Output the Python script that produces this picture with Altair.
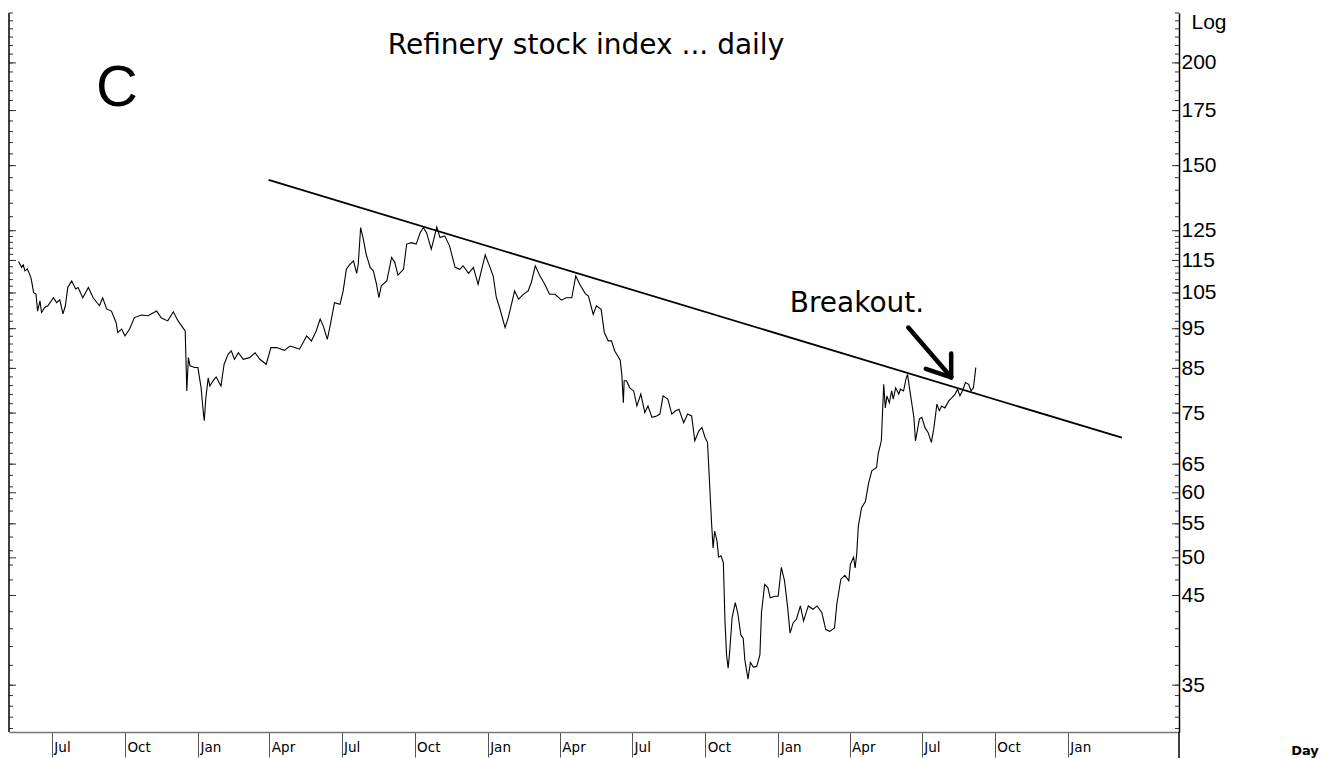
import altair as alt
import pandas as pd

# ---- price series: calendar days counted from 1 Jul 2006, and index value ----
days_2006 = [-42, -38, -36, -34, -31, -28, -26, -23, -20, -18, -15, -13, -9, -5, 2, 6, 10, 14, 17, 20,
             25, 30, 33, 39, 46, 52, 60, 64, 69, 75, 81, 83, 88, 92, 98, 104, 113, 121, 132, 138,
             146, 153, 159, 165, 168, 170, 172, 174, 180]
vals_2006 = [114.7, 112.8, 113.6, 111.7, 112.3, 110.7, 109.2, 105.1, 104.7, 99.8, 102.7, 99.4, 100.8, 101.3,
             103.6, 102.2, 103.0, 99.0, 101.3, 106.6, 108.6, 106.2, 106.6, 103.6, 106.6, 103.6, 101.3,
             103.6, 100.4, 99.8, 96.6, 94.0, 94.9, 93.1, 94.9, 98.0, 98.7, 98.5, 99.8, 97.9, 97.1, 99.6,
             97.1, 95.3, 94.4, 79.8, 87.6, 85.6, 85.2]

days_2007 = [184, 188, 191, 192, 194, 197, 199, 203, 207, 213, 217, 222, 226, 230, 235, 241, 249, 256, 262,
             270, 276, 283, 293, 300, 306, 312, 321, 327, 333, 338, 342, 347, 351, 356, 363, 367, 371, 375,
             380, 384, 386, 389, 392, 396, 401, 405, 409, 412, 415, 422, 428, 432, 436, 443, 447, 453, 459,
             464, 468, 472, 478, 485, 489, 495, 501, 508, 514, 518, 525, 531, 537, 541]
vals_2007 = [85.2, 80.5, 74.8, 73.4, 78.3, 82.8, 80.9, 82.1, 83.0, 80.9, 86.0, 88.4, 89.3, 87.2, 88.8, 87.2,
             87.6, 88.8, 87.2, 86.0, 90.1, 90.1, 89.4, 90.5, 90.1, 89.7, 93.1, 91.8, 94.4, 97.6, 95.7, 92.2,
             96.2, 102.2, 101.7, 105.6, 112.2, 113.6, 114.9, 110.9, 113.8, 126.1, 122.6, 117.0, 112.8, 111.7,
             107.6, 103.6, 107.1, 108.6, 116.0, 114.4, 110.4, 112.2, 120.4, 120.9, 120.4, 124.3, 126.1, 124.3,
             118.7, 126.3, 122.6, 123.2, 119.8, 112.8, 112.2, 113.3, 110.9, 112.8, 107.6, 111.7]

days_2008 = [546, 552, 556, 560, 564, 571, 575, 579, 583, 588, 594, 600, 604, 609, 615, 621, 627, 634, 642,
             648, 655, 660, 665, 672, 676, 682, 686, 692, 696, 701, 705, 709, 716, 718, 720, 721, 724, 728,
             733, 737, 742, 747, 751, 756, 762, 766, 770, 776, 781, 786, 790, 796, 801, 806, 810, 815, 819,
             823, 826, 828, 831, 833, 835, 838, 840, 843, 846, 848, 850, 852, 854, 857, 861, 864, 868, 871,
             873, 877, 880, 884, 888, 892, 894, 898, 902, 905]
vals_2008 = [116.8, 112.8, 110.1, 103.6, 100.8, 95.3, 98.0, 101.7, 105.6, 103.2, 104.6, 105.6, 108.1, 113.3,
             110.1, 107.6, 104.6, 104.6, 102.9, 103.6, 103.6, 110.1, 107.6, 104.8, 104.1, 98.9, 101.3, 100.3,
             94.0, 91.8, 91.8, 89.3, 87.0, 83.6, 77.2, 82.1, 82.1, 80.5, 79.8, 76.5, 79.1, 75.1, 76.5, 74.1,
             74.4, 74.8, 78.7, 78.0, 74.8, 75.5, 75.8, 73.0, 74.8, 74.4, 69.4, 71.3, 72.0, 70.0, 69.1, 63.3,
             55.4, 51.4, 53.9, 52.4, 50.1, 50.3, 49.3, 41.9, 38.1, 36.7, 38.5, 42.3, 44.1, 42.9, 40.3, 39.9,
             37.6, 35.6, 37.3, 36.8, 36.9, 38.1, 42.9, 46.4, 46.0, 44.7]

days_2009 = [911, 915, 919, 923, 927, 930, 934, 938, 943, 947, 953, 959, 964, 970, 975, 980, 986, 989, 994,
             999, 1004, 1006, 1010, 1012, 1014, 1016, 1020, 1025, 1029, 1033, 1039, 1041, 1045, 1048, 1050,
             1052, 1055, 1058, 1060, 1063, 1067, 1069, 1073, 1076, 1078, 1081, 1086, 1088, 1093, 1096, 1100,
             1104, 1108, 1111, 1115, 1118, 1121, 1125, 1130, 1134, 1138, 1141, 1144, 1147, 1151, 1155, 1158,
             1161, 1164]
vals_2009 = [44.9, 44.9, 48.7, 46.9, 43.5, 40.5, 41.7, 42.1, 43.7, 41.9, 43.7, 43.3, 43.7, 42.9, 40.9, 40.7,
             41.1, 44.0, 47.1, 47.6, 46.9, 49.1, 50.1, 48.6, 50.6, 54.6, 57.5, 58.6, 61.7, 63.8, 64.4, 66.9,
             69.4, 81.3, 76.1, 78.7, 77.2, 79.8, 78.0, 80.5, 79.1, 80.2, 79.8, 82.5, 83.6, 79.8, 74.1, 69.4,
             73.8, 74.1, 72.0, 71.0, 69.1, 71.7, 76.9, 75.5, 76.5, 76.1, 77.6, 78.3, 79.1, 80.2, 78.7, 79.8,
             81.7, 81.3, 79.8, 80.5, 85.2]

# trend line (two anchor points) and breakout arrow, in days / index value
trend_days = [273, 1348]
trend_vals = [144.1, 70.0]
arrow_from_days = [1079, 1133, 1133]
arrow_from_vals = [95.3, 82.9, 82.9]
arrow_to_days = [1133, 1101, 1133]
arrow_to_vals = [82.9, 84.9, 88.6]

# axis tick values
month_ticks = [(2006, 7), (2006, 10), (2007, 1), (2007, 4), (2007, 7), (2007, 10), (2008, 1), (2008, 4),
               (2008, 7), (2008, 10), (2009, 1), (2009, 4), (2009, 7), (2009, 10), (2010, 1)]
major_ticks = [35, 45, 50, 55, 60, 65, 75, 85, 95, 105, 115, 125, 150, 175, 200]
minor_ticks = [31, 32, 33, 34] + list(range(35, 126, 2)) + list(range(130, 231, 5))

origin = pd.Timestamp("2006-07-01")


def to_date(d):
    return (origin + pd.to_timedelta(d, unit="D")).strftime("%Y-%m-%d")


days = days_2006 + days_2007 + days_2008 + days_2009
vals = vals_2006 + vals_2007 + vals_2008 + vals_2009
price_df = pd.DataFrame({"date": [to_date(d) for d in days], "price": vals})
trend_df = pd.DataFrame({"date": [to_date(d) for d in trend_days], "price": trend_vals})
arrow_df = pd.DataFrame({
    "d1": [to_date(d) for d in arrow_from_days], "v1": arrow_from_vals,
    "d2": [to_date(d) for d in arrow_to_days], "v2": arrow_to_vals,
})
major_df = pd.DataFrame({"v": major_ticks})
minor_df = pd.DataFrame({"v": minor_ticks})

W, H = 1170, 719

xscale = alt.Scale(type="utc",
                   domain=[alt.DateTime(year=2006, month=5, date=8, utc=True),
                           alt.DateTime(year=2010, month=5, date=21, utc=True)])
yscale = alt.Scale(type="log", domain=[30.7, 230], nice=False)

x_axis = alt.Axis(
    values=[alt.DateTime(year=y, month=m, date=1, utc=True) for y, m in month_ticks],
    labelExpr="utcFormat(datum.value, '%b')",
    title=None, grid=False,
    domainColor="#777777", domainWidth=1.5,
    tickColor="#555555", tickSize=25, tickWidth=1,
    labelAlign="left", labelBaseline="top", labelOffset=2, labelPadding=-17,
    labelFont="DejaVu Sans", labelFontSize=13.5, labelColor="black",
    labelOverlap=False,
)
y_axis = alt.Axis(
    orient="right", values=major_ticks, format="d", title=None, grid=False,
    ticks=False, domain=True, domainColor="black", domainWidth=1.5,
    labelFont="Liberation Sans", labelFontSize=21, labelColor="black",
    labelPadding=2, labelBaseline="middle", labelOverlap=False,
)

line = alt.Chart(price_df).mark_line(color="black", strokeWidth=1.1).encode(
    x=alt.X("date:T", scale=xscale, axis=x_axis),
    y=alt.Y("price:Q", scale=yscale, axis=y_axis),
)

trend = alt.Chart(trend_df).mark_line(color="black", strokeWidth=1.8).encode(
    x="date:T", y="price:Q")

arrow = alt.Chart(arrow_df).mark_rule(color="black", strokeWidth=4.5, strokeCap="round").encode(
    x="d1:T", y="v1:Q", x2="d2:T", y2="v2:Q")


def edge_ticks(df, x0, x1):
    return alt.Chart(df).mark_rule(color="#333333", strokeWidth=1).encode(
        y="v:Q", x=alt.value(x0), x2=alt.value(x1))


ticks = [edge_ticks(minor_df, 0, 4), edge_ticks(major_df, 0, 7),
         edge_ticks(minor_df, W - 4, W), edge_ticks(major_df, W - 7, W)]

left_edge = alt.Chart(pd.DataFrame({"k": [0]})).mark_rule(color="black", strokeWidth=1.5).encode(
    x=alt.value(0), y=alt.value(0), y2=alt.value(H))
right_tail = alt.Chart(pd.DataFrame({"k": [0]})).mark_rule(color="black", strokeWidth=1.5).encode(
    x=alt.value(W), y=alt.value(H), y2=alt.value(H + 30))


def label(txt, x, y, size, font="Liberation Sans", weight="normal", align="center"):
    return alt.Chart(pd.DataFrame({"t": [txt]})).mark_text(
        font=font, fontSize=size, fontWeight=weight, color="black", align=align, baseline="middle"
    ).encode(text="t:N", x=alt.value(x), y=alt.value(y))


texts = [
    label("Refinery stock index ... daily", 577, 33, 28, font="DejaVu Sans"),
    label("C", 108, 76, 58),
    label("Breakout.", 848, 291, 28, font="DejaVu Sans"),
    label("Log", 1200, 10, 21),
    label("Day", 1296, 738, 13, font="DejaVu Sans", weight="bold"),
]

chart = alt.layer(line, trend, arrow, *ticks, left_edge, right_tail, *texts).properties(
    width=W, height=H,
    padding={"left": 8, "top": 12, "right": 0, "bottom": 0},
    background="white",
).configure_view(stroke=None)

chart.save("out.html", embed_options={"renderer": "svg", "actions": False})
